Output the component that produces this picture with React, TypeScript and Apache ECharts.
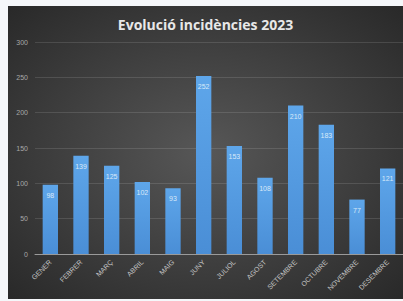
import React, { useEffect, useRef } from "react";
import * as echarts from "echarts";

const title = "Evolució incidències 2023";
const months = ["GENER", "FEBRER", "MARÇ", "ABRIL", "MAIG", "JUNY", "JULIOL", "AGOST", "SETEMBRE", "OCTUBRE", "NOVEMBRE", "DESEMBRE"];
const values = [98, 139, 125, 102, 93, 252, 153, 108, 210, 183, 77, 121];
const yTicks = { min: 0, max: 300, interval: 50 };

export default function App() {
  const ref = useRef<HTMLDivElement>(null);
  useEffect(() => {
    if (!ref.current) return;
    const chart = echarts.init(ref.current, undefined, { renderer: "svg" });
    chart.setOption({
      animation: false,
      backgroundColor: {
        type: "radial",
        x: 0.5,
        y: 0.5,
        r: 0.75,
        colorStops: [
          { offset: 0, color: "#575757" },
          { offset: 1, color: "#262626" },
        ],
      },
      title: {
        text: title,
        left: "center",
        top: 6,
        textStyle: { color: "#e8e8e8", fontSize: 14, fontWeight: "bold", fontFamily: "Open Sans" },
      },
      grid: { left: 27, right: 0, top: 36, bottom: 45, containLabel: false },
      xAxis: {
        type: "category",
        data: months,
        axisLine: { lineStyle: { color: "#9a9a9a", width: 1 } },
        axisTick: { show: false },
        axisLabel: {
          rotate: 45,
          color: "#c4c4c4",
          fontSize: 7,
          fontFamily: "Liberation Sans",
          margin: 7,
          interval: 0,
        },
      },
      yAxis: {
        type: "value",
        min: yTicks.min,
        max: yTicks.max,
        interval: yTicks.interval,
        axisLine: { show: false },
        axisTick: { show: false },
        axisLabel: { color: "#a8a8a8", fontSize: 7, fontFamily: "Liberation Sans", margin: 7 },
        splitLine: { lineStyle: { color: "rgba(255,255,255,0.12)", width: 1 } },
      },
      series: [
        {
          type: "bar",
          data: values,
          barWidth: "50%",
          itemStyle: {
            color: {
              type: "linear",
              x: 0,
              y: 0,
              x2: 0,
              y2: 1,
              colorStops: [
                { offset: 0, color: "#5ea6ea" },
                { offset: 1, color: "#4a8ed6" },
              ],
            },
          },
          label: {
            show: true,
            position: "insideTop",
            distance: 7,
            color: "#d8e8f8",
            fontSize: 7,
            fontFamily: "Liberation Sans",
          },
        },
      ],
    });
    return () => chart.dispose();
  }, []);
  return (
    <div style={{ position: "fixed", left: 0, top: 0, width: 403, height: 301, background: "#f5f7fa" }}>
      <div ref={ref} style={{ position: "absolute", left: 8, top: 6, width: 395, height: 293 }} />
    </div>
  );
}
